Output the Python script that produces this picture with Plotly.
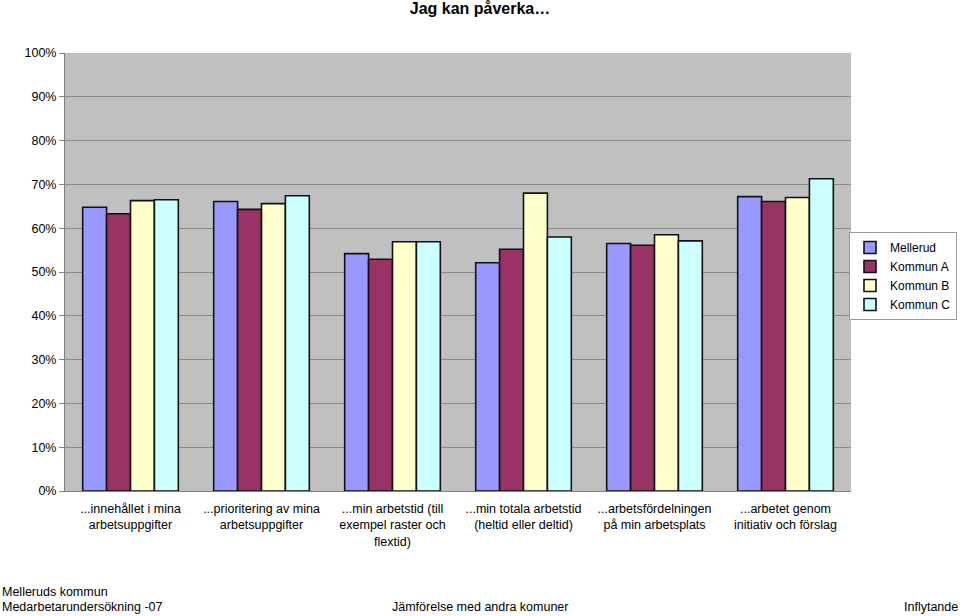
import plotly.graph_objects as go

categories = [
    "...innehållet i mina<br>arbetsuppgifter",
    "...prioritering av mina<br>arbetsuppgifter",
    "...min arbetstid (till<br>exempel raster och<br>flextid)",
    "...min totala arbetstid<br>(heltid eller deltid)",
    "...arbetsfördelningen<br>på min arbetsplats",
    "...arbetet genom<br>initiativ och förslag",
]
mellerud = [0.648, 0.661, 0.542, 0.521, 0.565, 0.672]
kommun_a = [0.633, 0.643, 0.529, 0.552, 0.561, 0.661]
kommun_b = [0.663, 0.656, 0.569, 0.680, 0.585, 0.670]
kommun_c = [0.665, 0.674, 0.569, 0.580, 0.571, 0.713]
series_names = ["Mellerud", "Kommun A", "Kommun B", "Kommun C"]
colors = ["#9999FF", "#993366", "#FFFFCC", "#CCFFFF"]
tick_vals = [i / 10 for i in range(11)]
tick_text = [f"{i*10}%" for i in range(11)]

FONT = "Liberation Sans, Arial, sans-serif"
W, H = 960, 616
L, R, T, B = 65, 109, 53, 125
PW, PH = W - L - R, H - T - B


def px_x(x):
    return (x - L) / PW


def px_y(y):
    return (H - B - y) / PH


fig = go.Figure()
for name, vals, col in zip(series_names, [mellerud, kommun_a, kommun_b, kommun_c], colors):
    fig.add_trace(go.Bar(
        x=categories, y=vals, name=name,
        marker=dict(color=col, line=dict(color="#111111", width=1.6)),
    ))

fig.update_layout(
    width=W, height=H,
    margin=dict(l=L, r=R, t=T, b=B, autoexpand=False),
    paper_bgcolor="white",
    plot_bgcolor="#C0C0C0",
    barmode="group",
    bargap=0.27,
    bargroupgap=0,
    font=dict(family=FONT, size=12.5, color="black"),
    title=dict(text="<b>Jag kan påverka…</b>", x=0.5, xanchor="center",
               y=1 - 8 / H, yanchor="middle", pad=dict(t=0, b=0),
               font=dict(size=16, family=FONT)),
    showlegend=True,
    legend=dict(
        x=px_x(849), xanchor="left",
        y=px_y(232), yanchor="top",
        bgcolor="white", bordercolor="#999999", borderwidth=1,
        font=dict(size=12, family=FONT),
        itemwidth=30, tracegroupgap=0,
        traceorder="normal",
    ),
    yaxis=dict(
        range=[0, 1], tickvals=tick_vals, ticktext=tick_text,
        showgrid=True, gridcolor="#8a8a8a", gridwidth=1,
        showline=True, linecolor="#808080", linewidth=1,
        ticks="outside", ticklen=5, tickcolor="#808080",
        tickfont=dict(size=12.5, family=FONT),
        zeroline=False,
    ),
    xaxis=dict(
        showline=True, linecolor="#808080", linewidth=1,
        ticks="", tickfont=dict(size=12.5, family=FONT),
        tickangle=0, ticklabelstandoff=6,
    ),
)

annotations = [
    dict(text="Melleruds kommun", x=0, y=592, xanchor="left"),
    dict(text="Medarbetarundersökning -07", x=0, y=607, xanchor="left"),
    dict(text="Jämförelse med andra komuner", x=480, y=607, xanchor="center"),
    dict(text="Inflytande", x=960, y=607, xanchor="right"),
]
for a in annotations:
    fig.add_annotation(
        text=a["text"], xref="paper", yref="paper",
        x=px_x(a["x"]), y=px_y(a["y"]),
        xanchor=a["xanchor"], yanchor="middle", showarrow=False,
        font=dict(size=12.5, family=FONT, color="black"),
    )

fig.write_html(
    "out.html",
    config={"displayModeBar": False},
    post_script="document.body.style.margin='0';document.body.style.padding='0';document.body.style.overflow='hidden';",
)
